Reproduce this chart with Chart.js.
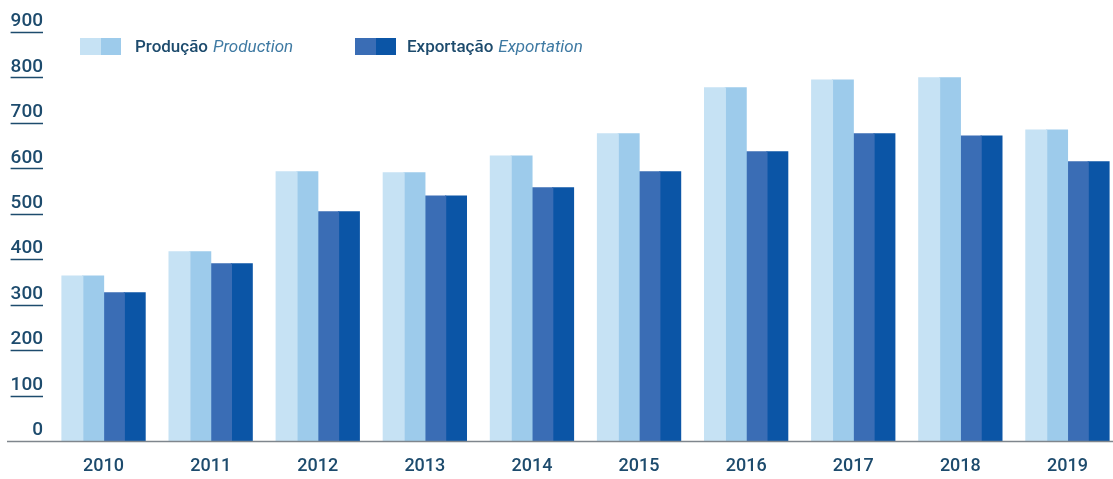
<!DOCTYPE html>
<html>
<head>
<meta charset="utf-8">
<script src="https://cdn.jsdelivr.net/npm/chart.js@4/dist/chart.umd.min.js"></script>
<style>
  html, body { margin: 0; padding: 0; background: #fff; overflow: hidden; }
  #wrap { position: relative; width: 1121px; height: 479px; }
  .legend { position: absolute; top: 36px; display: flex; align-items: center; font-family: Roboto, sans-serif; font-size: 17px; }
  .sw { display: inline-block; width: 20.5px; height: 17px; }
  .legend b { font-weight: 500; color: #1d4b6d; margin-left: 14px; }
  .legend i { color: #3f7aa3; margin-left: 5px; }
</style>
</head>
<body>
<div id="wrap">
  <canvas id="production_bar" width="1121" height="479"></canvas>
  <div class="legend" style="left:80px">
    <span class="sw" style="background:#c6e2f4"></span><span class="sw" style="background:#9dcbeb"></span>
    <b>Produção</b><i>Production</i>
  </div>
  <div class="legend" style="left:355px">
    <span class="sw" style="background:#3a6db5"></span><span class="sw" style="background:#0b55a6"></span>
    <b style="margin-left:11px">Exportação</b><i>Exportation</i>
  </div>
</div>
<script>
const years = ["2010", "2011", "2012", "2013", "2014", "2015", "2016", "2017", "2018", "2019"];
const production = [363, 416, 592, 590, 627, 676, 777, 794, 799, 684];
const exportation = [326, 390, 504, 539, 557, 592, 636, 676, 671, 614];
const yTicks = [0, 100, 200, 300, 400, 500, 600, 700, 800, 900];

const textColor = "#1d4b6d";
const fontFamily = "Roboto, sans-serif";

// each bar is drawn as two half bars of two tones
const halfBar = (data, color) => ({
  data: data,
  backgroundColor: color,
  borderWidth: 0,
  inflateAmount: 0.6,
  barPercentage: 1,
  categoryPercentage: 0.776,
});

// underline under y labels + baseline at 0
const axisDecor = {
  id: "axisDecor",
  afterDraw(chart) {
    const ctx = chart.ctx;
    const y = chart.scales.y;
    ctx.save();
    ctx.font = "500 19px " + fontFamily;
    ctx.strokeStyle = textColor;
    ctx.lineWidth = 1.5;
    y.ticks.forEach((tick) => {
      if (tick.value === 0) return;
      const py = Math.round(y.getPixelForValue(tick.value)) + 0.5;
      const w = ctx.measureText(String(tick.value)).width;
      ctx.beginPath();
      ctx.moveTo(43 - w, py);
      ctx.lineTo(43, py);
      ctx.stroke();
    });
    const base = Math.round(y.getPixelForValue(0)) + 0.5;
    ctx.strokeStyle = "#7f868d";
    ctx.lineWidth = 1.6;
    ctx.beginPath();
    ctx.moveTo(7, base);
    ctx.lineTo(chart.width, base);
    ctx.stroke();
    ctx.restore();
  },
};

new Chart(document.getElementById("production_bar"), {
  type: "bar",
  data: {
    labels: years,
    datasets: [
      halfBar(production, "#c6e2f4"),
      halfBar(production, "#9dcbeb"),
      halfBar(exportation, "#3a6db5"),
      halfBar(exportation, "#0b55a6"),
    ],
  },
  options: {
    responsive: false,
    animation: false,
    layout: { padding: { top: 32, right: 0, bottom: 0, left: 0 } },
    scales: {
      y: {
        min: 0,
        max: 900,
        afterBuildTicks: (scale) => {
          scale.ticks = yTicks.map((v) => ({ value: v }));
        },
        afterFit: (scale) => {
          scale.width = 50;
        },
        border: { display: false },
        grid: { display: false, drawTicks: false },
        ticks: {
          padding: 7,
          labelOffset: -10.5,
          color: textColor,
          font: { family: fontFamily, size: 19, weight: 500 },
        },
      },
      x: {
        afterFit: (scale) => {
          scale.height = 38;
        },
        border: { display: false },
        grid: { display: false, drawTicks: false },
        ticks: {
          padding: 15,
          color: textColor,
          font: { family: fontFamily, size: 18, weight: 500 },
        },
      },
    },
    plugins: {
      legend: { display: false },
      tooltip: { enabled: false },
    },
  },
  plugins: [axisDecor],
});
</script>
</body>
</html>
